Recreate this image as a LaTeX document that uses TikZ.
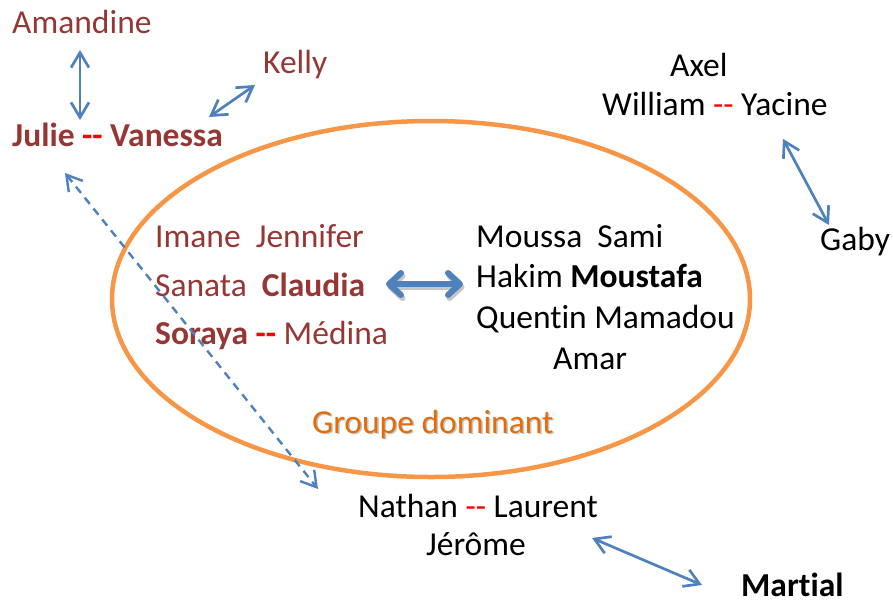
\documentclass[tikz,border=0pt]{standalone}
\usepackage{fontspec}
\setmainfont{Carlito}[Ligatures={NoCommon}]
\usetikzlibrary{arrows.meta}
\definecolor{dred}{HTML}{953735}
\definecolor{lblue}{HTML}{4F81BD}
\definecolor{orng}{HTML}{F79646}
\definecolor{gorng}{HTML}{E46C0A}
\newcommand\dd{\textcolor{red}{\mbox{-}\mbox{-}}}
\begin{document}
\begin{tikzpicture}[x=1pt,y=-1pt,
  every node/.style={inner sep=0pt, anchor=base west, font=\fontsize{33.5}{40}\selectfont},
  fname/.style={text=dred},
  bname/.style={text=black},
  relarrow/.style={draw=lblue, line width=2.7pt,
    {Straight Barb[length=15pt,width=18pt]}-{Straight Barb[length=15pt,width=18pt]}},
  bigarrow/.style={line width=6pt,
    {Straight Barb[length=12pt,width=22pt,round]}-{Straight Barb[length=12pt,width=22pt,round]}}
]
\useasboundingbox (0,0) rectangle (893,600);

% dominant group ellipse
\draw[orng, line width=4.5pt] (431,299) ellipse [x radius=319, y radius=178];

% names
\node[fname] (amandine) at (12,33) {Amandine};
\node[fname] (kelly) at (263,73) {Kelly};
\node[fname] (julie) at (12,146) {\bfseries Julie \dd{} Vanessa};

\node[bname] (axel) at (670,76) {Axel};
\node[bname] (william) at (602,115) {William \dd{} Yacine};
\node[bname] (gaby) at (820,250) {Gaby};

\node[fname] (imane) at (155,247) {Imane\ \ Jennifer};
\node[fname] (sanata) at (155,296) {Sanata\ \ \textbf{Claudia}};
\node[fname] (soraya) at (155,344) {\textbf{Soraya} \textbf{\dd} Médina};

\node[bname] (moussa) at (476,247) {Moussa\ \ Sami};
\node[bname] (hakim) at (476,287) {Hakim \textbf{Moustafa}};
\node[bname] (quentin) at (476,328) {Quentin Mamadou};
\node[bname] (amar) at (553,369) {Amar};

\node[text=gray, opacity=0.45] (grpshadow) at (313.5,434.5) {Groupe dominant};
\node[text=gorng] (groupe) at (312,433) {Groupe dominant};

\node[bname] (nathan) at (358,517) {Nathan \dd{} Laurent};
\node[bname] (jerome) at (426,555) {Jérôme};
\node[bname] (martial) at (741,596) {\bfseries Martial};

% connector end points
\coordinate (a1) at (80,50);   \coordinate (a2) at (80,120);
\coordinate (k1) at (255,85);  \coordinate (k2) at (209,117);
\coordinate (y1) at (783,139); \coordinate (y2) at (829,225);
\coordinate (m1) at (386,284); \coordinate (m2) at (463,284);
\coordinate (d1) at (65,173);  \coordinate (d2) at (318,489);
\coordinate (j1) at (592,538); \coordinate (j2) at (702,585);

% connectors
\draw[relarrow] (a1) -- (a2);
\draw[relarrow] (k1) -- (k2);
\draw[relarrow] (y1) -- (y2);
\draw[relarrow] (j1) -- (j2);
\draw[relarrow, line width=2.4pt, dash pattern=on 8pt off 6pt] (d1) -- (d2);

\draw[bigarrow, draw=black, opacity=0.22, transform canvas={shift={(1.5pt,-3pt)}}] (m1) -- (m2);
\draw[bigarrow, draw=lblue] (m1) -- (m2);
\end{tikzpicture}
\end{document}
